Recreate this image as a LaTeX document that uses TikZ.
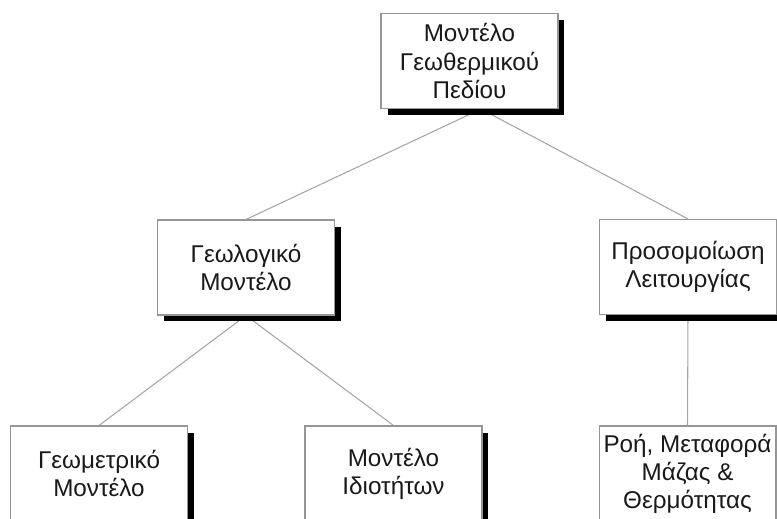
\documentclass[tikz,border=0pt]{standalone}
\usepackage{fontspec}
\setmainfont{Liberation Sans}
\usetikzlibrary{shadows,backgrounds}
\definecolor{linkgray}{RGB}{165,165,165}
\definecolor{framegray}{RGB}{150,150,150}
\tikzset{
  modelbox/.style={draw=framegray,line width=0.6pt,fill=white,text=black!90,align=center,
    minimum width=3.54cm,minimum height=1.9cm,inner sep=1pt,font=\fontsize{13.8}{16}\selectfont,
    drop shadow={shadow xshift=0.13cm,shadow yshift=-0.13cm,fill=black,opacity=1}},
  link/.style={draw=linkgray,line width=0.6pt}
}
\begin{document}
\begin{tikzpicture}[x=0.02cm,y=-0.02cm]
            \useasboundingbox (0,0) rectangle (777,519);
            \clip (0,0) rectangle (777,519);
            % top level
            \node[modelbox] at (469.5,61)(field){Μοντέλο\\Γεωθερμικού\\Πεδίου};
            \coordinate (fieldfoot) at ([xshift=0.23cm]field.south);
            % second level
            \node[modelbox] at (246,267.5)(geo){Γεωλογικό\\Μοντέλο};
            \node[modelbox] at (688,267)(sim){Προσομοίωση\\Λειτουργίας};
            % third level (cut at the bottom)
            \node[modelbox] at (99,473.5)(geom){Γεωμετρικό\\Μοντέλο};
            \node[modelbox] at (393.5,473.5)(prop){Μοντέλο\\Ιδιοτήτων};
            \node[modelbox] at (687.5,473.5)(flow){Ροή, Μεταφορά\\Μάζας \&\\Θερμότητας};
            \begin{scope}[on background layer]
                \path[link] (fieldfoot) -- (geo.north);
                \path[link] (fieldfoot) -- (sim.north);
                \path[link] (geo.south) -- (geom.north);
                \path[link] (geo.south) -- (prop.north);
                \path[link] (sim.south) -- (flow.north);
            \end{scope}
        \end{tikzpicture}
\end{document}
